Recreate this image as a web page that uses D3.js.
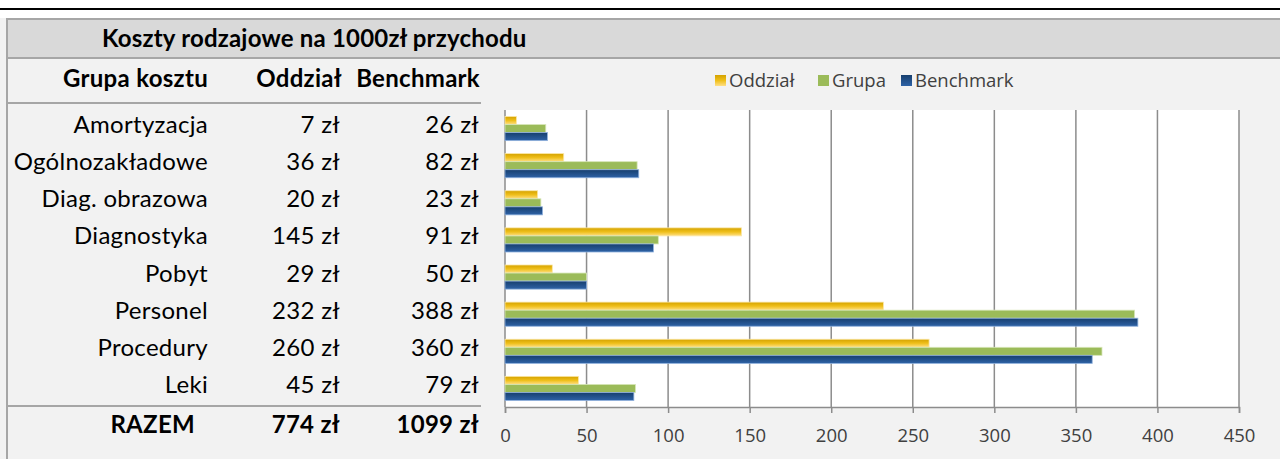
<!DOCTYPE html>
<html>
<head>
<meta charset="utf-8">
<script src="https://cdn.jsdelivr.net/npm/d3@7"></script>
<style>
  body { margin: 0; background: #f2f2f2; }
  svg { display: block; }
</style>
</head>
<body>
<div id="chart"></div>
<script>
// data
var categories = ["Amortyzacja", "Ogólnozakładowe", "Diag. obrazowa", "Diagnostyka",
    "Pobyt", "Personel", "Procedury", "Leki"];
var oddzial = [7, 36, 20, 145, 29, 232, 260, 45];
var grupa = [25, 81, 22, 94, 50, 386, 366, 80];
var benchmark = [26, 82, 23, 91, 50, 388, 360, 79];
var seriesNames = ["Oddział", "Grupa", "Benchmark"];
var xTicks = [0, 50, 100, 150, 200, 250, 300, 350, 400, 450];

var w = 1280;
var h = 459;
var font = "Lato, 'Open Sans', sans-serif";
var svg = d3.select("#chart")
    .append("svg")
    .attr("width", w)
    .attr("height", h);

var defs = svg.append("defs");
var gOdd = defs.append("linearGradient").attr("id", "gOdd")
    .attr("x1", 0).attr("y1", 0).attr("x2", 0).attr("y2", 1);
gOdd.append("stop").attr("offset", "0%").attr("stop-color", "#d4a200");
gOdd.append("stop").attr("offset", "50%").attr("stop-color", "#efbf1a");
gOdd.append("stop").attr("offset", "100%").attr("stop-color", "#ffdf85");
var gBen = defs.append("linearGradient").attr("id", "gBen")
    .attr("x1", 0).attr("y1", 0).attr("x2", 0).attr("y2", 1);
gBen.append("stop").attr("offset", "0%").attr("stop-color", "#173f6e");
gBen.append("stop").attr("offset", "100%").attr("stop-color", "#2e62a6");

var fills = ["url(#gOdd)", "#9bbb59", "url(#gBen)"];
var legendFills = ["url(#gOdd)", "#9bbb59", "url(#gBen)"];

// background frame
svg.append("rect").attr("x", 0).attr("y", 0).attr("width", w).attr("height", h).attr("fill", "#f2f2f2");
svg.append("rect").attr("x", 0).attr("y", 0).attr("width", w).attr("height", 18).attr("fill", "#ffffff");
svg.append("rect").attr("x", 0).attr("y", 8).attr("width", w).attr("height", 2).attr("fill", "#000");
svg.append("rect").attr("x", 6).attr("y", 18).attr("width", w - 6).attr("height", 41)
    .attr("fill", "#a6a6a6");
svg.append("rect").attr("x", 8).attr("y", 20).attr("width", w - 8).attr("height", 37)
    .attr("fill", "#d9d9d9");
svg.append("rect").attr("x", 6).attr("y", 18).attr("width", 2).attr("height", h - 18)
    .attr("fill", "#a6a6a6");

svg.append("text")
    .text("Koszty rodzajowe na 1000zł przychodu")
    .attr("x", 102).attr("y", 47)
    .attr("font-family", font).attr("font-weight", "bold")
    .style("letter-spacing", "0.2px")
    .style("font-size", "24px").attr("fill", "#000");

// table
var rowY = d3.scaleBand().domain(categories).range([106, 404]);
var table = svg.append("g").attr("font-family", font)
    .style("font-size", "24px").style("letter-spacing", "0.3px").attr("fill", "#000");

var heads = [["Grupa kosztu", 208], ["Oddział", 342], ["Benchmark", 480]];
table.selectAll(".head").data(heads).enter().append("text")
    .attr("class", "head")
    .text(function (d) { return d[0]; })
    .attr("x", function (d) { return d[1]; })
    .attr("y", 87)
    .attr("text-anchor", "end")
    .attr("font-weight", "bold");

svg.append("rect").attr("x", 8).attr("y", 102).attr("width", 473).attr("height", 2).attr("fill", "#a6a6a6");
svg.append("rect").attr("x", 8).attr("y", 405).attr("width", 473).attr("height", 2).attr("fill", "#a6a6a6");

var rows = table.selectAll(".row").data(categories).enter().append("g")
    .attr("class", "row")
    .attr("transform", function (d) { return "translate(0," + (rowY(d) + rowY.bandwidth() / 2 + 8) + ")"; });
rows.append("text").text(function (d) { return d; })
    .attr("x", 208).attr("text-anchor", "end");
rows.append("text").text(function (d, i) { return oddzial[i] + " zł"; })
    .attr("x", 340).attr("text-anchor", "end");
rows.append("text").text(function (d, i) { return benchmark[i] + " zł"; })
    .attr("x", 479).attr("text-anchor", "end");

var totals = [["RAZEM", 195], [d3.sum(oddzial) + " zł", 340], [d3.sum(benchmark) + " zł", 479]];
table.selectAll(".total").data(totals).enter().append("text")
    .attr("class", "total")
    .text(function (d) { return d[0]; })
    .attr("x", function (d) { return d[1]; })
    .attr("y", 433)
    .attr("text-anchor", "end")
    .attr("font-weight", "bold");

// bar chart
var x = d3.scaleLinear().domain([0, 450]).range([505, 1239]);
var y = d3.scaleBand().domain(categories).range([110, 407])
    .paddingInner(0.35).paddingOuter(0.175);
var ys = d3.scaleBand().domain(seriesNames).range([0, y.bandwidth()]);

svg.append("rect").attr("x", x(0)).attr("y", 110)
    .attr("width", x(450) - x(0)).attr("height", 297).attr("fill", "#ffffff");

svg.append("g").selectAll("line").data(xTicks).enter().append("line")
    .attr("x1", function (d) { return x(d); })
    .attr("x2", function (d) { return x(d); })
    .attr("y1", 110).attr("y2", 407)
    .attr("stroke", "#8c8c8c").attr("stroke-width", 1.5);

var barData = [];
for (var i = 0; i < categories.length; i++) {
    barData.push({ cat: categories[i], s: 0, v: oddzial[i] });
    barData.push({ cat: categories[i], s: 1, v: grupa[i] });
    barData.push({ cat: categories[i], s: 2, v: benchmark[i] });
}
var strokes = ["#fbe7a6", "#d7e6b8", "#8fb0dc"];
svg.append("g").selectAll("rect").data(barData).enter().append("rect")
    .attr("x", x(0))
    .attr("y", function (d) { return y(d.cat) + ys(seriesNames[d.s]); })
    .attr("width", function (d) { return x(d.v) - x(0); })
    .attr("height", ys.bandwidth())
    .attr("fill", function (d) { return fills[d.s]; })
    .attr("stroke", function (d) { return strokes[d.s]; })
    .attr("stroke-width", 0.8);

var xAxis = d3.axisBottom(x).tickValues(xTicks).tickSize(6).tickPadding(10);
var ax = svg.append("g")
    .attr("transform", "translate(0,407)")
    .call(xAxis);
ax.select(".domain").attr("stroke", "#8c8c8c").attr("stroke-width", 1.5);
ax.selectAll(".tick line").attr("stroke", "#8c8c8c").attr("stroke-width", 1.5);
ax.selectAll(".tick text")
    .attr("font-family", "'Open Sans', sans-serif")
    .attr("dy", null).attr("y", 35)
    .style("font-size", "18.5px").attr("fill", "#404040");

// legend
var legendX = [715, 818, 901];
var legend = svg.append("g").selectAll("g").data(seriesNames).enter().append("g")
    .attr("transform", function (d, i) { return "translate(" + legendX[i] + ",75)"; });
legend.append("rect").attr("width", 11).attr("height", 11)
    .attr("fill", function (d, i) { return legendFills[i]; });
legend.append("text").text(function (d) { return d; })
    .attr("x", 14).attr("y", 12)
    .attr("font-family", "'Open Sans', sans-serif")
    .style("font-size", "18.5px").attr("fill", "#404040");
</script>
</body>
</html>
